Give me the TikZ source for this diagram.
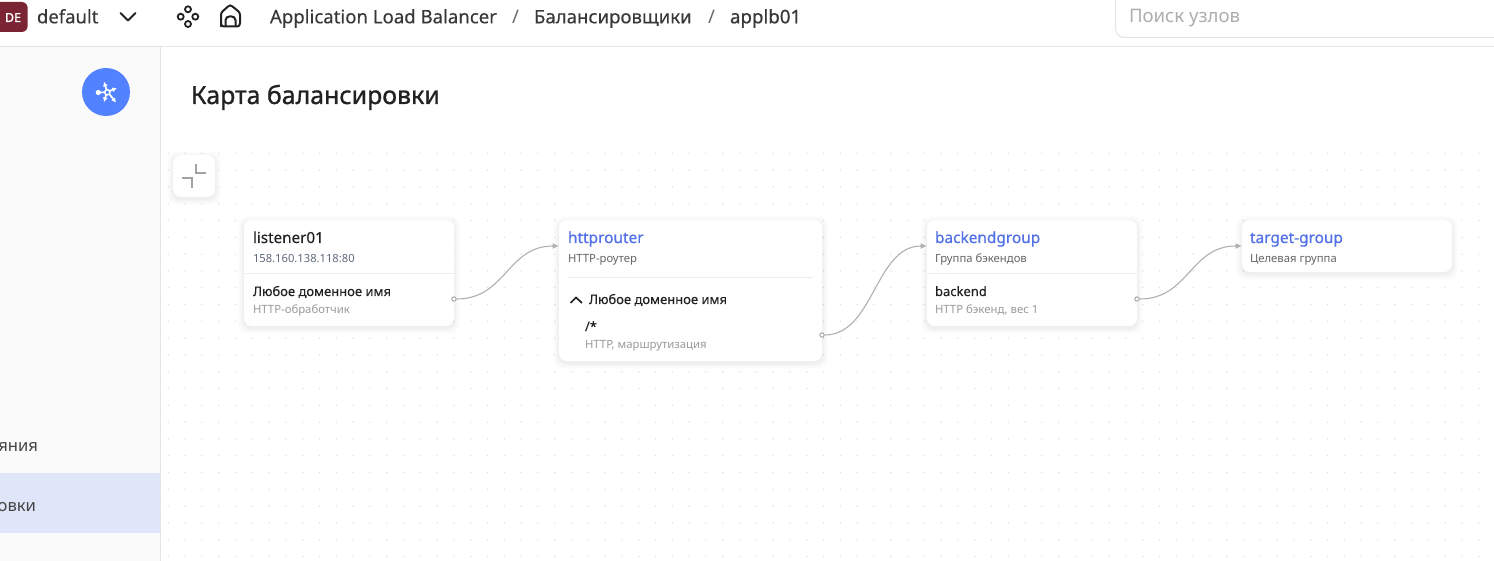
\documentclass[tikz,border=0pt]{standalone}
\usepackage{fontspec}
\setmainfont{Noto Sans}
\newfontfamily\regf[FakeBold=0.2]{Noto Sans}
\newfontfamily\medf[FakeBold=0.7]{Noto Sans}
\newfontfamily\headf[FakeBold=1.1]{Noto Sans}
\usetikzlibrary{arrows.meta}
\definecolor{inkc}{HTML}{222222}
\definecolor{greyc}{HTML}{9A9A9A}
\definecolor{subc}{HTML}{666666}
\definecolor{ipc}{HTML}{5F6B7E}
\definecolor{linkc}{HTML}{5271E6}
\definecolor{rulec}{HTML}{E5E5E5}
\definecolor{sidec}{HTML}{FAFAFA}
\definecolor{selc}{HTML}{E0E6FA}
\definecolor{dotc}{HTML}{E0E0E0}
\definecolor{edgec}{HTML}{B0B0B0}
\definecolor{bluec}{HTML}{5282FF}
\definecolor{wine}{HTML}{7B2433}
\newcommand{\fsz}[1]{\fontsize{#1}{#1}\selectfont}
\newcommand{\softshadow}[4]{%
  \foreach \s/\o in {6/0.006,5/0.007,4/0.008,3/0.010,2/0.012,1/0.015}{
    \fill[black,opacity=\o,rounded corners=9] (#1-\s,#2-\s+2) rectangle (#3+\s,#4+\s+2);
  }}
\tikzset{
  x=1pt,y=-1pt,
  txt/.style={anchor=base west,inner sep=0,outer sep=0,text height=0pt,text depth=0pt},
  cardbox/.style={anchor=north west,inner sep=0,outer sep=0,fill=white,rounded corners=8},
  nametxt/.style={txt,text=inkc,font=\regf\fsz{15.2}},
  linktxt/.style={txt,text=linkc,font=\medf\fsz{15.4}},
  subtxt/.style={txt,text=subc,font=\fsz{11.3}},
  iptxt/.style={txt,text=ipc,font=\fsz{11.2}},
  rowtxt/.style={txt,text=inkc,font=\regf\fsz{13}},
  greytxt/.style={txt,text=greyc,font=\fsz{11.35}},
  navtxt/.style={txt,text=inkc!90,font=\regf\fsz{18.6}},
  sidetxt/.style={txt,text=inkc!85,font=\fsz{16.6},anchor=base east},
  divider/.style={draw=rulec!70,line width=.8},
  port/.style={circle,draw=edgec!85!black,fill=white,inner sep=0,minimum size=4.4,line width=.8},
  link/.style={draw=edgec,line width=1.1,-{Latex[length=6.5,width=6]}},
  iconline/.style={draw=inkc,line width=2,line cap=round,line join=round},
}
\begin{document}
\begin{tikzpicture}
\clip (0,0) rectangle (1494,561);
\fill[white] (0,0) rectangle (1494,561);
% sidebar
\fill[sidec] (0,47) rectangle (160,561);
\fill[selc] (0,473) rectangle (160,533);
\draw[rulec,line width=1] (160.5,47) -- (160.5,561);
\draw[rulec,line width=1] (0,46.5) -- (1494,46.5);
% dotted canvas
\foreach \i in {0,...,78}{\foreach \j in {0,...,24}{
  \fill[dotc] (168.3+16.8*\i,153.3+16.8*\j) circle (.8);
}}
% top bar
\fill[wine,rounded corners=6] (-8,2) rectangle (27.7,32);
\node[txt,text=white,font=\headf\fsz{12.5},anchor=base] (de) at (13,22) {DE};
\node[navtxt,font=\regf\fsz{18.5}] (proj) at (37,23.3) {default};
\draw[iconline] (120.5,13) -- (128,20.5) -- (135.5,13);
\foreach \p/\q in {188/9.3,180.7/16.7,195.3/16.7,188/24}{
  \draw[inkc,line width=1.8] (\p,\q) circle (3);
}
\draw[iconline] (221,26.5) -- (221,15) .. controls (221,13) and (222,12) .. (223,11) -- (228,6.5) .. controls (229.5,5) and (231,5) .. (232.5,6.5) -- (238,11) .. controls (239,12) and (240,13) .. (240,15) -- (240,23) .. controls (240,25.5) and (239,26.5) .. (237,26.5) -- (224,26.5) .. controls (222,26.5) and (221,25.5) .. (221,23) -- cycle;
\draw[iconline] (225.5,26) -- (225.5,20) .. controls (225.5,15) and (235.5,15) .. (235.5,20) -- (235.5,26);
\node[navtxt] (crumb1) at (270,23.3) {Application Load Balancer};
\node[navtxt,text=subc,font=\fsz{18.6}] (sep1) at (512,23.3) {/};
\node[navtxt] (crumb2) at (534,23.3) {Балансировщики};
\node[navtxt,text=subc,font=\fsz{18.6}] (sep2) at (708,23.3) {/};
\node[navtxt,font=\medf\fsz{18.7}] (crumb3) at (730,23.3) {applb01};
\draw[rulec,line width=1,rounded corners=8] (1115.7,-20) rectangle (1520,37.3);
\node[navtxt,text=black!32,font=\fsz{18.6}] (search) at (1129,23) {Поиск узлов};
% sidebar items
\fill[bluec] (106,92) circle (24);
\begin{scope}[white,line width=1.7]
  \draw[line width=1.5] (107.3,92.3) circle (2.6);
  \fill (98.3,92.5) circle (2.6);
  \draw (98.3,92.5) -- (104.7,92.3);
  \draw[-{Latex[length=4.5,width=5]}] (106.6,89.8) -- (104,81.8);
  \draw[-{Latex[length=4.5,width=5]}] (109.7,91) -- (116.8,88);
  \draw[-{Latex[length=4.5,width=5]}] (109.3,94) -- (116,102.5);
  \draw[-{Latex[length=4.5,width=5]}] (106.2,94.7) -- (104,102);
\end{scope}
\node[sidetxt] (item1) at (38,451) {яния};
\node[sidetxt] (item2) at (36,511) {овки};
% heading
\node[txt,text=inkc,font=\headf\fsz{24.9}] (title) at (191,104) {Карта балансировки};
% collapse button
\softshadow{173}{155}{215}{197}
\node[cardbox,minimum width=42,minimum height=42] (collapse) at (173,155) {};
\draw[black!36,line width=2] (196,164) -- (196,173) -- (206,173);
\draw[black!36,line width=2] (182,178) -- (191.5,178) -- (191.5,188);
% cards
\softshadow{244}{220}{454}{326}
\softshadow{559}{220}{822}{361}
\softshadow{927}{220}{1137}{326}
\softshadow{1242}{220}{1452}{272}
\node[cardbox,minimum width=210,minimum height=106] (listener) at (244,220) {};
\node[cardbox,minimum width=263,minimum height=141] (router) at (559,220) {};
\node[cardbox,minimum width=210,minimum height=106] (backends) at (927,220) {};
\node[cardbox,minimum width=210,minimum height=52] (targets) at (1242,220) {};
\draw[divider] (244,273) -- (454,273);
\draw[divider] (567.5,277) -- (813,277);
\draw[divider] (927,273) -- (1137,273);
% listener
\node[nametxt] (t1) at (253,243) {listener01};
\node[iptxt] (t2) at (253,262.5) {158.160.138.118:80};
\node[rowtxt] (t3) at (253,296) {Любое доменное имя};
\node[greytxt] (t4) at (253,313.5) {HTTP-обработчик};
% router
\node[linktxt] (t5) at (568,243) {httprouter};
\node[subtxt] (t6) at (568,262.5) {HTTP-роутер};
\draw[inkc,line width=1.7] (570.5,303) -- (576,297.5) -- (582,303);
\node[rowtxt] (t7) at (589,304) {Любое доменное имя};
\node[rowtxt] (t8) at (585,331) {/*};
\node[greytxt] (t9) at (585,348.5) {HTTP, маршрутизация};
% backend group
\node[linktxt] (t10) at (935,243) {backendgroup};
\node[subtxt] (t11) at (935,262.5) {Группа бэкендов};
\node[rowtxt] (t12) at (935,296) {backend};
\node[greytxt] (t13) at (935,313.5) {HTTP бэкенд, вес 1};
% target group
\node[linktxt] (t14) at (1250,243) {target-group};
\node[subtxt] (t15) at (1250,262.5) {Целевая группа};
% connectors
\node[port] (p1) at (listener.east |- 0,299) {};
\node[port] (p2) at (router.east |- 0,335) {};
\node[port] (p3) at (backends.east |- 0,299) {};
\coordinate (in1) at (router.west |- 0,246);
\coordinate (in2) at (backends.west |- 0,246);
\coordinate (in3) at (targets.west |- 0,246);
\draw[link] (p1) .. controls +(52,0) and +(-52,0) .. (in1);
\draw[link] (p2) .. controls +(52,0) and +(-52,0) .. (in2);
\draw[link] (p3) .. controls +(52,0) and +(-52,0) .. (in3);
\end{tikzpicture}
\end{document}
